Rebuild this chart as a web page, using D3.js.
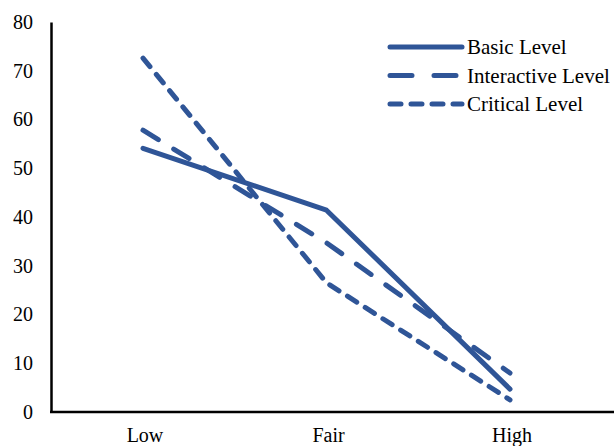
<!DOCTYPE html>
<html>
<head>
<meta charset="utf-8">
<script src="https://cdn.jsdelivr.net/npm/d3@7"></script>
<style>
  body { margin: 0; background: #fff; }
  svg text { font-family: "Liberation Serif", "Times New Roman", serif; fill: #000; }
</style>
</head>
<body>
<div id="chart"></div>
<script>
const categories = ["Low", "Fair", "High"];
const basicLevel = [54.1, 41.4, 4.7];
const interactiveLevel = [57.8, 34.7, 8];
const criticalLevel = [72.6, 26.5, 2.5];
const yTicks = [0, 10, 20, 30, 40, 50, 60, 70, 80];

const series = [
    { name: "Basic Level", values: basicLevel, dash: null, legendDash: null },
    { name: "Interactive Level", values: interactiveLevel, dash: "18,18", legendDash: "22,22" },
    { name: "Critical Level", values: criticalLevel, dash: "11,10", legendDash: "11,10" },
];

const width = 614;
const height = 446;
const color = "#2f5597";

const svg = d3.select("#chart")
    .append("svg")
    .attr("width", width)
    .attr("height", height);

const yScale = d3.scaleLinear()
    .domain([0, 80])
    .range([412, 22]);

const xScale = d3.scalePoint()
    .domain(categories)
    .range([143, 510]);

// y axis
const yAxis = svg.append("g")
    .attr("transform", "translate(51,0)")
    .call(d3.axisLeft(yScale).tickValues(yTicks).tickSize(0).tickPadding(18));
yAxis.select(".domain").attr("stroke", "#000").attr("stroke-width", 2.5);
yAxis.selectAll("text")
    .style("font-size", "20px")
    .style("font-family", "Liberation Serif, serif");

// x axis line
svg.append("line")
    .attr("x1", 50).attr("x2", width)
    .attr("y1", yScale(0)).attr("y2", yScale(0))
    .attr("stroke", "#000").attr("stroke-width", 2.5);

svg.append("g")
    .selectAll("text")
    .data(categories)
    .join("text")
    .attr("x", (d) => xScale(d) + 2)
    .attr("y", 442)
    .attr("text-anchor", "middle")
    .style("font-size", "20px")
    .text((d) => d);

const line = d3.line()
    .x((d, i) => xScale(categories[i]))
    .y((d) => yScale(d));

svg.append("g")
    .selectAll("path")
    .data(series)
    .join("path")
    .attr("d", (d) => line(d.values))
    .attr("fill", "none")
    .attr("stroke", color)
    .attr("stroke-width", 5)
    .attr("stroke-linecap", "round")
    .attr("stroke-linejoin", "round")
    .attr("stroke-dasharray", (d) => d.dash);

// legend
const legend = svg.append("g")
    .selectAll("g")
    .data(series)
    .join("g")
    .attr("transform", (d, i) => `translate(390, ${47 + i * 28.5})`);

legend.append("line")
    .attr("x1", 0).attr("x2", 72)
    .attr("stroke", color)
    .attr("stroke-width", 5)
    .attr("stroke-linecap", "round")
    .attr("stroke-dasharray", (d) => d.legendDash);

legend.append("text")
    .attr("x", 77)
    .attr("y", 7)
    .style("font-size", "21px")
    .text((d) => d.name);
</script>
</body>
</html>
